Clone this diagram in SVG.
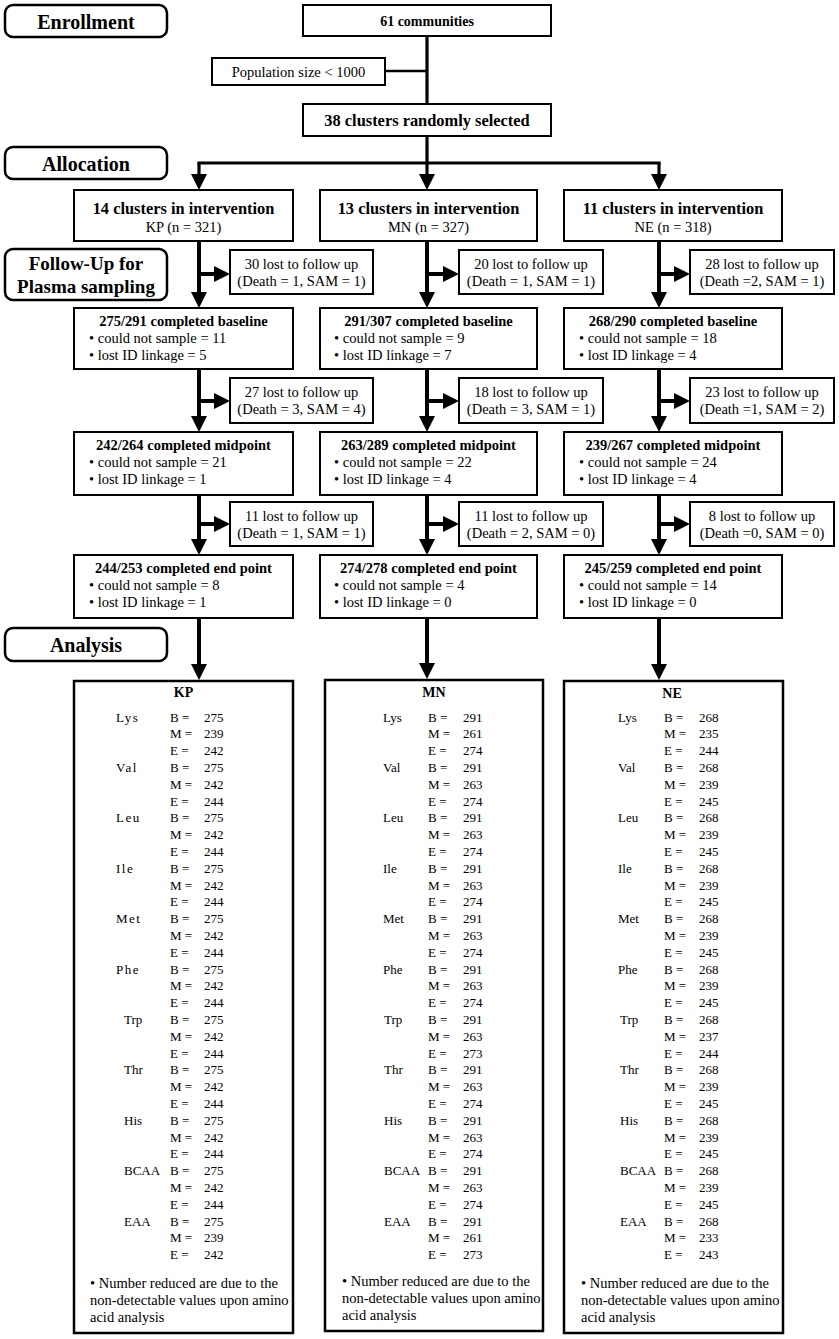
<svg xmlns="http://www.w3.org/2000/svg" width="839" height="1339" viewBox="0 0 839 1339">
<defs>
<style>
text{font-family:"Liberation Serif","Times New Roman",serif;fill:#000}
.box{fill:#fff;stroke:#000;stroke-width:2}
.hdr{fill:#fff;stroke:#000;stroke-width:2.5}
.tbl{fill:#fff;stroke:#000;stroke-width:2.5}
.conn{stroke:#000;stroke-width:4;fill:none}
.top{stroke-width:3.2}
.h{font-weight:bold;font-size:20px;text-anchor:middle}
.f{font-weight:bold;font-size:19px;text-anchor:middle}
.t1{font-weight:bold;font-size:16.4px;text-anchor:middle}
.t2{font-weight:bold;font-size:14.5px;text-anchor:middle}
.t3{font-weight:bold;font-size:14px;text-anchor:middle}
.c{font-size:14.5px;text-anchor:middle}
.l{font-size:14.5px}
.v{font-size:13px}
.fn{font-size:14.5px}
</style>
<marker id="ah" markerUnits="userSpaceOnUse" markerWidth="16" markerHeight="16" refX="6" refY="8" orient="auto">
<path d="M0,0 L16,8 L0,16 Z" fill="#000"/>
</marker>
</defs>
<rect width="839" height="1339" fill="#fff"/>

<g id="hdr-enrollment"><rect class="hdr" x="5" y="5" width="162" height="32" rx="8"/><text class="h" x="86" y="29">Enrollment</text></g>
<g id="hdr-allocation"><rect class="hdr" x="5" y="147" width="162" height="32" rx="8"/><text class="h" x="86" y="171">Allocation</text></g>
<g id="hdr-followup"><rect class="hdr" x="5" y="249" width="162" height="51" rx="8"/><text class="f" x="86" y="270">Follow-Up for</text><text class="f" x="86" y="293">Plasma sampling</text></g>
<g id="hdr-analysis"><rect class="hdr" x="5" y="628" width="162" height="33" rx="8"/><text class="h" x="86" y="652">Analysis</text></g>

<g id="connectors">
<line class="conn top" x1="427" y1="36" x2="427" y2="104"/>
<line class="conn" style="stroke-width:2.6" x1="385" y1="71" x2="427" y2="71"/>
<line class="conn top" x1="427" y1="136" x2="427" y2="163"/>
<line class="conn top" x1="197.4" y1="163" x2="660.6" y2="163"/>
<line class="conn top" x1="199" y1="163" x2="199" y2="180" marker-end="url(#ah)"/>
<line class="conn top" x1="427" y1="163" x2="427" y2="180" marker-end="url(#ah)"/>
<line class="conn top" x1="659" y1="163" x2="659" y2="180" marker-end="url(#ah)"/>

<line class="conn" x1="199" y1="241" x2="199" y2="298" marker-end="url(#ah)"/>
<line class="conn" x1="199" y1="274" x2="220" y2="274" marker-end="url(#ah)"/>
<line class="conn" x1="199" y1="369" x2="199" y2="422" marker-end="url(#ah)"/>
<line class="conn" x1="199" y1="401" x2="220" y2="401" marker-end="url(#ah)"/>
<line class="conn" x1="199" y1="495" x2="199" y2="545" marker-end="url(#ah)"/>
<line class="conn" x1="199" y1="524" x2="220" y2="524" marker-end="url(#ah)"/>
<line class="conn" x1="199" y1="618" x2="199" y2="670" marker-end="url(#ah)"/>

<line class="conn" x1="427" y1="241" x2="427" y2="298" marker-end="url(#ah)"/>
<line class="conn" x1="427" y1="274" x2="449" y2="274" marker-end="url(#ah)"/>
<line class="conn" x1="427" y1="369" x2="427" y2="422" marker-end="url(#ah)"/>
<line class="conn" x1="427" y1="401" x2="449" y2="401" marker-end="url(#ah)"/>
<line class="conn" x1="427" y1="495" x2="427" y2="545" marker-end="url(#ah)"/>
<line class="conn" x1="427" y1="524" x2="449" y2="524" marker-end="url(#ah)"/>
<line class="conn" x1="427" y1="618" x2="427" y2="669" marker-end="url(#ah)"/>

<line class="conn" x1="659" y1="241" x2="659" y2="298" marker-end="url(#ah)"/>
<line class="conn" x1="659" y1="274" x2="680" y2="274" marker-end="url(#ah)"/>
<line class="conn" x1="659" y1="369" x2="659" y2="422" marker-end="url(#ah)"/>
<line class="conn" x1="659" y1="401" x2="680" y2="401" marker-end="url(#ah)"/>
<line class="conn" x1="659" y1="495" x2="659" y2="545" marker-end="url(#ah)"/>
<line class="conn" x1="659" y1="524" x2="680" y2="524" marker-end="url(#ah)"/>
<line class="conn" x1="659" y1="618" x2="659" y2="670" marker-end="url(#ah)"/>
</g>

<g id="n-communities"><rect class="box" x="303" y="5" width="248" height="31"/><text class="t3" x="427" y="26">61 communities</text></g>
<g id="n-population"><rect class="box" x="212" y="58" width="173" height="27"/><text class="c" x="298.5" y="77">Population size &lt; 1000</text></g>
<g id="n-clusters"><rect class="box" x="303" y="104" width="248" height="32"/><text class="t1" x="427" y="126">38 clusters randomly selected</text></g>

<g id="n-kp"><rect class="box" x="74" y="190" width="219" height="51"/><text class="t1" x="183.5" y="214">14 clusters in intervention</text><text class="c" x="183.5" y="232">KP (n = 321)</text></g>
<g id="n-mn"><rect class="box" x="320" y="190" width="217" height="51"/><text class="t1" x="428.5" y="214">13 clusters in intervention</text><text class="c" x="428.5" y="232">MN (n = 327)</text></g>
<g id="n-ne"><rect class="box" x="564" y="190" width="218" height="51"/><text class="t1" x="673" y="214">11 clusters in intervention</text><text class="c" x="673" y="232">NE (n = 318)</text></g>

<g id="l-kp1"><rect class="box" x="230" y="250" width="143" height="44"/><text class="c" x="301.5" y="269">30 lost to follow up</text><text class="c" x="301.5" y="286">(Death = 1, SAM = 1)</text></g>
<g id="l-mn1"><rect class="box" x="459" y="250" width="144" height="44"/><text class="c" x="531" y="269">20 lost to follow up</text><text class="c" x="531" y="286">(Death = 1, SAM = 1)</text></g>
<g id="l-ne1"><rect class="box" x="690" y="250" width="144" height="44"/><text class="c" x="762" y="269">28 lost to follow up</text><text class="c" x="762" y="286">(Death =2, SAM = 1)</text></g>

<g id="b-kp"><rect class="box" x="74" y="308" width="219" height="61"/><text class="t2" x="183.5" y="326">275/291 completed baseline</text><text class="l" x="89" y="343">• could not sample = 11</text><text class="l" x="89" y="360">• lost ID linkage = 5</text></g>
<g id="b-mn"><rect class="box" x="320" y="308" width="217" height="61"/><text class="t2" x="428.5" y="326">291/307 completed baseline</text><text class="l" x="334" y="343">• could not sample = 9</text><text class="l" x="334" y="360">• lost ID linkage = 7</text></g>
<g id="b-ne"><rect class="box" x="564" y="308" width="218" height="61"/><text class="t2" x="673" y="326">268/290 completed baseline</text><text class="l" x="579" y="343">• could not sample = 18</text><text class="l" x="579" y="360">• lost ID linkage = 4</text></g>

<g id="l-kp2"><rect class="box" x="230" y="378" width="143" height="45"/><text class="c" x="301.5" y="397">27 lost to follow up</text><text class="c" x="301.5" y="414">(Death = 3, SAM = 4)</text></g>
<g id="l-mn2"><rect class="box" x="459" y="378" width="144" height="45"/><text class="c" x="531" y="397">18 lost to follow up</text><text class="c" x="531" y="414">(Death = 3, SAM = 1)</text></g>
<g id="l-ne2"><rect class="box" x="690" y="378" width="144" height="45"/><text class="c" x="762" y="397">23 lost to follow up</text><text class="c" x="762" y="414">(Death =1, SAM = 2)</text></g>

<g id="m-kp"><rect class="box" x="74" y="432" width="219" height="63"/><text class="t2" x="183.5" y="450">242/264 completed midpoint</text><text class="l" x="89" y="467">• could not sample = 21</text><text class="l" x="89" y="484">• lost ID linkage = 1</text></g>
<g id="m-mn"><rect class="box" x="320" y="432" width="217" height="63"/><text class="t2" x="428.5" y="450">263/289 completed midpoint</text><text class="l" x="334" y="467">• could not sample = 22</text><text class="l" x="334" y="484">• lost ID linkage = 4</text></g>
<g id="m-ne"><rect class="box" x="564" y="432" width="218" height="63"/><text class="t2" x="673" y="450">239/267 completed midpoint</text><text class="l" x="579" y="467">• could not sample = 24</text><text class="l" x="579" y="484">• lost ID linkage = 4</text></g>

<g id="l-kp3"><rect class="box" x="230" y="502" width="143" height="44"/><text class="c" x="301.5" y="521">11 lost to follow up</text><text class="c" x="301.5" y="538">(Death = 1, SAM = 1)</text></g>
<g id="l-mn3"><rect class="box" x="459" y="502" width="144" height="44"/><text class="c" x="531" y="521">11 lost to follow up</text><text class="c" x="531" y="538">(Death = 2, SAM = 0)</text></g>
<g id="l-ne3"><rect class="box" x="690" y="502" width="144" height="44"/><text class="c" x="762" y="521">8 lost to follow up</text><text class="c" x="762" y="538">(Death =0, SAM = 0)</text></g>

<g id="e-kp"><rect class="box" x="74" y="555" width="219" height="63"/><text class="t2" x="183.5" y="573">244/253 completed end point</text><text class="l" x="89" y="590">• could not sample = 8</text><text class="l" x="89" y="607">• lost ID linkage = 1</text></g>
<g id="e-mn"><rect class="box" x="320" y="555" width="217" height="63"/><text class="t2" x="428.5" y="573">274/278 completed end point</text><text class="l" x="334" y="590">• could not sample = 4</text><text class="l" x="334" y="607">• lost ID linkage = 0</text></g>
<g id="e-ne"><rect class="box" x="564" y="555" width="218" height="63"/><text class="t2" x="673" y="573">245/259 completed end point</text><text class="l" x="579" y="590">• could not sample = 14</text><text class="l" x="579" y="607">• lost ID linkage = 0</text></g>

<g id="t-kp">
<rect class="tbl" x="74" y="681" width="219" height="652"/>
<text class="t3" x="183.5" y="697">KP</text>
<g class="v">
<text y="721.5"><tspan x="116" letter-spacing="1.5">Lys</tspan><tspan x="170">B =</tspan><tspan x="204">275</tspan></text>
<text y="738.3"><tspan x="170">M =</tspan><tspan x="204">239</tspan></text>
<text y="755.1"><tspan x="170">E =</tspan><tspan x="204">242</tspan></text>
<text y="771.9"><tspan x="116" letter-spacing="1.5">Val</tspan><tspan x="170">B =</tspan><tspan x="204">275</tspan></text>
<text y="788.7"><tspan x="170">M =</tspan><tspan x="204">242</tspan></text>
<text y="805.5"><tspan x="170">E =</tspan><tspan x="204">244</tspan></text>
<text y="822.3"><tspan x="116" letter-spacing="1.5">Leu</tspan><tspan x="170">B =</tspan><tspan x="204">275</tspan></text>
<text y="839.1"><tspan x="170">M =</tspan><tspan x="204">242</tspan></text>
<text y="855.9"><tspan x="170">E =</tspan><tspan x="204">244</tspan></text>
<text y="872.7"><tspan x="116" letter-spacing="1.5">Ile</tspan><tspan x="170">B =</tspan><tspan x="204">275</tspan></text>
<text y="889.5"><tspan x="170">M =</tspan><tspan x="204">242</tspan></text>
<text y="906.3"><tspan x="170">E =</tspan><tspan x="204">244</tspan></text>
<text y="923.1"><tspan x="116" letter-spacing="1.5">Met</tspan><tspan x="170">B =</tspan><tspan x="204">275</tspan></text>
<text y="939.9"><tspan x="170">M =</tspan><tspan x="204">242</tspan></text>
<text y="956.7"><tspan x="170">E =</tspan><tspan x="204">244</tspan></text>
<text y="973.5"><tspan x="116" letter-spacing="1.5">Phe</tspan><tspan x="170">B =</tspan><tspan x="204">275</tspan></text>
<text y="990.3"><tspan x="170">M =</tspan><tspan x="204">242</tspan></text>
<text y="1007.1"><tspan x="170">E =</tspan><tspan x="204">244</tspan></text>
<text y="1023.9"><tspan x="124">Trp</tspan><tspan x="170">B =</tspan><tspan x="204">275</tspan></text>
<text y="1040.7"><tspan x="170">M =</tspan><tspan x="204">242</tspan></text>
<text y="1057.5"><tspan x="170">E =</tspan><tspan x="204">244</tspan></text>
<text y="1074.3"><tspan x="124">Thr</tspan><tspan x="170">B =</tspan><tspan x="204">275</tspan></text>
<text y="1091.1"><tspan x="170">M =</tspan><tspan x="204">242</tspan></text>
<text y="1107.9"><tspan x="170">E =</tspan><tspan x="204">244</tspan></text>
<text y="1124.7"><tspan x="124">His</tspan><tspan x="170">B =</tspan><tspan x="204">275</tspan></text>
<text y="1141.5"><tspan x="170">M =</tspan><tspan x="204">242</tspan></text>
<text y="1158.3"><tspan x="170">E =</tspan><tspan x="204">244</tspan></text>
<text y="1175.1"><tspan x="124">BCAA</tspan><tspan x="170">B =</tspan><tspan x="204">275</tspan></text>
<text y="1191.9"><tspan x="170">M =</tspan><tspan x="204">242</tspan></text>
<text y="1208.7"><tspan x="170">E =</tspan><tspan x="204">244</tspan></text>
<text y="1225.5"><tspan x="124">EAA</tspan><tspan x="170">B =</tspan><tspan x="204">275</tspan></text>
<text y="1242.3"><tspan x="170">M =</tspan><tspan x="204">239</tspan></text>
<text y="1259.1"><tspan x="170">E =</tspan><tspan x="204">242</tspan></text>
</g>
<text class="fn" x="90" y="1288">• Number reduced are due to the</text>
<text class="fn" x="90" y="1305">non-detectable values upon amino</text>
<text class="fn" x="90" y="1322">acid analysis</text>
</g>

<g id="t-mn">
<rect class="tbl" x="325" y="680" width="218" height="651"/>
<text class="t3" x="434" y="697">MN</text>
<g class="v">
<text y="721.5"><tspan x="383">Lys</tspan><tspan x="428">B =</tspan><tspan x="463">291</tspan></text>
<text y="738.3"><tspan x="428">M =</tspan><tspan x="463">261</tspan></text>
<text y="755.1"><tspan x="428">E =</tspan><tspan x="463">274</tspan></text>
<text y="771.9"><tspan x="383">Val</tspan><tspan x="428">B =</tspan><tspan x="463">291</tspan></text>
<text y="788.7"><tspan x="428">M =</tspan><tspan x="463">263</tspan></text>
<text y="805.5"><tspan x="428">E =</tspan><tspan x="463">274</tspan></text>
<text y="822.3"><tspan x="383">Leu</tspan><tspan x="428">B =</tspan><tspan x="463">291</tspan></text>
<text y="839.1"><tspan x="428">M =</tspan><tspan x="463">263</tspan></text>
<text y="855.9"><tspan x="428">E =</tspan><tspan x="463">274</tspan></text>
<text y="872.7"><tspan x="383">Ile</tspan><tspan x="428">B =</tspan><tspan x="463">291</tspan></text>
<text y="889.5"><tspan x="428">M =</tspan><tspan x="463">263</tspan></text>
<text y="906.3"><tspan x="428">E =</tspan><tspan x="463">274</tspan></text>
<text y="923.1"><tspan x="383">Met</tspan><tspan x="428">B =</tspan><tspan x="463">291</tspan></text>
<text y="939.9"><tspan x="428">M =</tspan><tspan x="463">263</tspan></text>
<text y="956.7"><tspan x="428">E =</tspan><tspan x="463">274</tspan></text>
<text y="973.5"><tspan x="383">Phe</tspan><tspan x="428">B =</tspan><tspan x="463">291</tspan></text>
<text y="990.3"><tspan x="428">M =</tspan><tspan x="463">263</tspan></text>
<text y="1007.1"><tspan x="428">E =</tspan><tspan x="463">274</tspan></text>
<text y="1023.9"><tspan x="384">Trp</tspan><tspan x="428">B =</tspan><tspan x="463">291</tspan></text>
<text y="1040.7"><tspan x="428">M =</tspan><tspan x="463">263</tspan></text>
<text y="1057.5"><tspan x="428">E =</tspan><tspan x="463">273</tspan></text>
<text y="1074.3"><tspan x="384">Thr</tspan><tspan x="428">B =</tspan><tspan x="463">291</tspan></text>
<text y="1091.1"><tspan x="428">M =</tspan><tspan x="463">263</tspan></text>
<text y="1107.9"><tspan x="428">E =</tspan><tspan x="463">274</tspan></text>
<text y="1124.7"><tspan x="384">His</tspan><tspan x="428">B =</tspan><tspan x="463">291</tspan></text>
<text y="1141.5"><tspan x="428">M =</tspan><tspan x="463">263</tspan></text>
<text y="1158.3"><tspan x="428">E =</tspan><tspan x="463">274</tspan></text>
<text y="1175.1"><tspan x="384">BCAA</tspan><tspan x="428">B =</tspan><tspan x="463">291</tspan></text>
<text y="1191.9"><tspan x="428">M =</tspan><tspan x="463">263</tspan></text>
<text y="1208.7"><tspan x="428">E =</tspan><tspan x="463">274</tspan></text>
<text y="1225.5"><tspan x="384">EAA</tspan><tspan x="428">B =</tspan><tspan x="463">291</tspan></text>
<text y="1242.3"><tspan x="428">M =</tspan><tspan x="463">261</tspan></text>
<text y="1259.1"><tspan x="428">E =</tspan><tspan x="463">273</tspan></text>
</g>
<text class="fn" x="342" y="1286">• Number reduced are due to the</text>
<text class="fn" x="342" y="1303">non-detectable values upon amino</text>
<text class="fn" x="342" y="1320">acid analysis</text>
</g>

<g id="t-ne">
<rect class="tbl" x="564" y="681" width="219" height="652"/>
<text class="t3" x="672" y="698">NE</text>
<g class="v">
<text y="721.5"><tspan x="618">Lys</tspan><tspan x="664">B =</tspan><tspan x="699">268</tspan></text>
<text y="738.3"><tspan x="664">M =</tspan><tspan x="699">235</tspan></text>
<text y="755.1"><tspan x="664">E =</tspan><tspan x="699">244</tspan></text>
<text y="771.9"><tspan x="618">Val</tspan><tspan x="664">B =</tspan><tspan x="699">268</tspan></text>
<text y="788.7"><tspan x="664">M =</tspan><tspan x="699">239</tspan></text>
<text y="805.5"><tspan x="664">E =</tspan><tspan x="699">245</tspan></text>
<text y="822.3"><tspan x="618">Leu</tspan><tspan x="664">B =</tspan><tspan x="699">268</tspan></text>
<text y="839.1"><tspan x="664">M =</tspan><tspan x="699">239</tspan></text>
<text y="855.9"><tspan x="664">E =</tspan><tspan x="699">245</tspan></text>
<text y="872.7"><tspan x="618">Ile</tspan><tspan x="664">B =</tspan><tspan x="699">268</tspan></text>
<text y="889.5"><tspan x="664">M =</tspan><tspan x="699">239</tspan></text>
<text y="906.3"><tspan x="664">E =</tspan><tspan x="699">245</tspan></text>
<text y="923.1"><tspan x="618">Met</tspan><tspan x="664">B =</tspan><tspan x="699">268</tspan></text>
<text y="939.9"><tspan x="664">M =</tspan><tspan x="699">239</tspan></text>
<text y="956.7"><tspan x="664">E =</tspan><tspan x="699">245</tspan></text>
<text y="973.5"><tspan x="618">Phe</tspan><tspan x="664">B =</tspan><tspan x="699">268</tspan></text>
<text y="990.3"><tspan x="664">M =</tspan><tspan x="699">239</tspan></text>
<text y="1007.1"><tspan x="664">E =</tspan><tspan x="699">245</tspan></text>
<text y="1023.9"><tspan x="620">Trp</tspan><tspan x="664">B =</tspan><tspan x="699">268</tspan></text>
<text y="1040.7"><tspan x="664">M =</tspan><tspan x="699">237</tspan></text>
<text y="1057.5"><tspan x="664">E =</tspan><tspan x="699">244</tspan></text>
<text y="1074.3"><tspan x="620">Thr</tspan><tspan x="664">B =</tspan><tspan x="699">268</tspan></text>
<text y="1091.1"><tspan x="664">M =</tspan><tspan x="699">239</tspan></text>
<text y="1107.9"><tspan x="664">E =</tspan><tspan x="699">245</tspan></text>
<text y="1124.7"><tspan x="620">His</tspan><tspan x="664">B =</tspan><tspan x="699">268</tspan></text>
<text y="1141.5"><tspan x="664">M =</tspan><tspan x="699">239</tspan></text>
<text y="1158.3"><tspan x="664">E =</tspan><tspan x="699">245</tspan></text>
<text y="1175.1"><tspan x="620">BCAA</tspan><tspan x="664">B =</tspan><tspan x="699">268</tspan></text>
<text y="1191.9"><tspan x="664">M =</tspan><tspan x="699">239</tspan></text>
<text y="1208.7"><tspan x="664">E =</tspan><tspan x="699">245</tspan></text>
<text y="1225.5"><tspan x="620">EAA</tspan><tspan x="664">B =</tspan><tspan x="699">268</tspan></text>
<text y="1242.3"><tspan x="664">M =</tspan><tspan x="699">233</tspan></text>
<text y="1259.1"><tspan x="664">E =</tspan><tspan x="699">243</tspan></text>
</g>
<text class="fn" x="581" y="1288">• Number reduced are due to the</text>
<text class="fn" x="581" y="1305">non-detectable values upon amino</text>
<text class="fn" x="581" y="1322">acid analysis</text>
</g>
</svg>
